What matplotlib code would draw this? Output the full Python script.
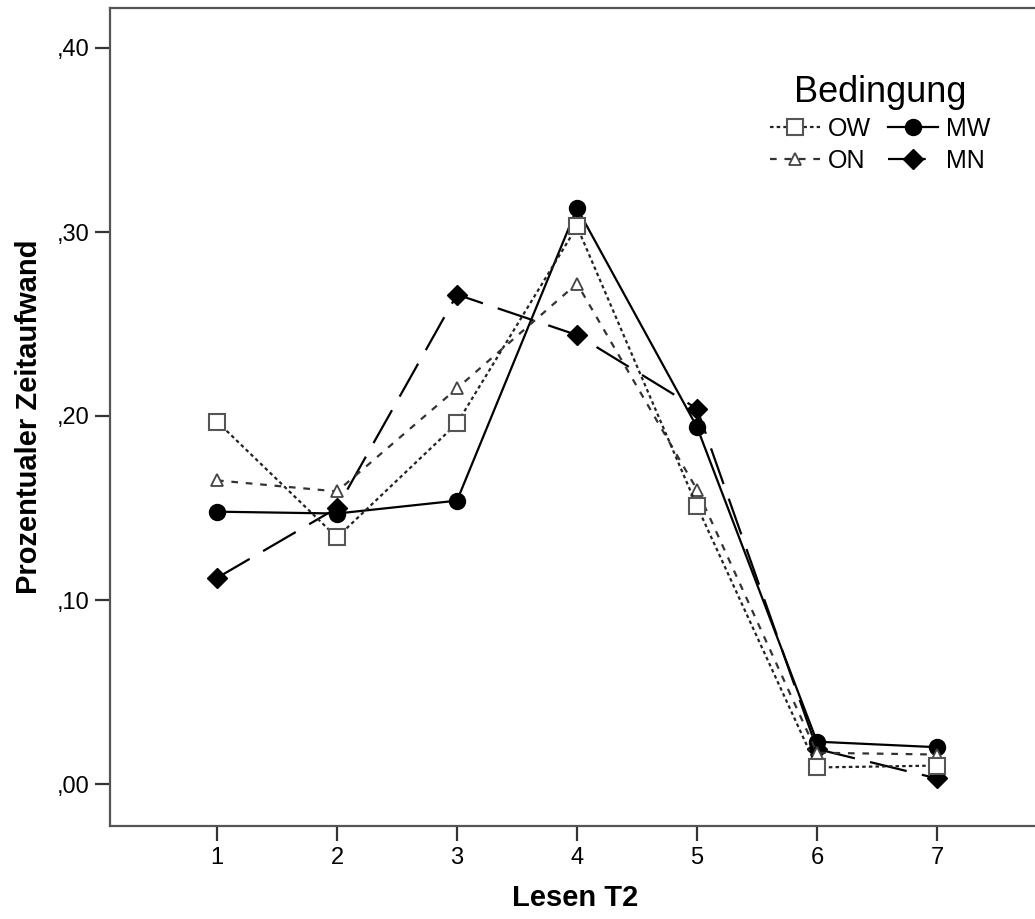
import matplotlib
matplotlib.use("Agg")
import matplotlib.pyplot as plt
from matplotlib.ticker import FuncFormatter, FixedLocator

plt.rcParams['font.family'] = ['Liberation Sans', 'DejaVu Sans']

x = [1, 2, 3, 4, 5, 6, 7]
ow = [0.197, 0.134, 0.196, 0.303, 0.151, 0.009, 0.010]
on = [0.165, 0.159, 0.215, 0.272, 0.160, 0.017, 0.016]
mw = [0.148, 0.147, 0.154, 0.313, 0.194, 0.023, 0.020]
mn = [0.112, 0.150, 0.266, 0.244, 0.204, 0.019, 0.003]
y_ticks = [0.0, 0.1, 0.2, 0.3, 0.4]

W, H = 1035, 919
fig = plt.figure(figsize=(W / 100, H / 100), dpi=100)
ax = fig.add_axes([110 / W, 1 - 826 / H, 930 / W, 818 / H])

lw = 1.6
ms = 11.5
ax.plot(x, mn, color='black', lw=lw, dashes=(17, 7), marker='D', ms=10.5,
        mfc='black', mec='black', label='MN', zorder=3)
ax.plot(x, mw, color='black', lw=lw, ls='-', marker='o', ms=ms,
        mfc='black', mec='black', label='MW', zorder=4)
ax.plot(x, on, color='#333333', lw=lw, dashes=(3, 3.5), marker='^', ms=9,
        mfc='white', mec='#444444', mew=1.3, label='ON', zorder=5)
ax.plot(x, ow, color='#222222', lw=lw, dashes=(1.6, 1.4), marker='s', ms=ms,
        mfc='white', mec='#555555', mew=1.5, label='OW', zorder=6)

ax.set_xlim(1 - 107 / 120, 7 + 103 / 120)
ax.set_ylim(-42 / 1840, 776 / 1840)
ax.xaxis.set_major_locator(FixedLocator(x))
ax.yaxis.set_major_locator(FixedLocator(y_ticks))
ax.yaxis.set_major_formatter(FuncFormatter(lambda v, p: (',%02d' % round(v * 100))))

for s in ax.spines.values():
    s.set_color('#555555')
    s.set_linewidth(1.6)
ax.tick_params(direction='out', length=11, width=1.6, color='#333333',
               labelsize=17, pad=4)

ax.set_xlabel('Lesen T2', fontsize=21, fontweight='bold')
ax.set_ylabel('Prozentualer Zeitaufwand', fontsize=21, fontweight='bold')
ax.xaxis.set_label_coords(0.5, -(898 - 826) / 818, transform=ax.transAxes)
ax.yaxis.set_label_coords(-(110 - 29) / 930, 0.5, transform=ax.transAxes)
ax.xaxis.label.set_va('center')
ax.yaxis.label.set_va('center')

handles, labels = ax.get_legend_handles_labels()
order = {'OW': 0, 'ON': 1, 'MW': 2, 'MN': 3}
hl = sorted(zip(handles, labels), key=lambda t: order[t[1]])
leg = fig.legend([h for h, l in hl], [l for h, l in hl], ncol=2, loc='upper center',
                 bbox_to_anchor=(880 / W, 1 - 57 / H), frameon=False,
                 title='Bedingung', fontsize=18, title_fontsize=26,
                 handlelength=2.0, handletextpad=0.3, columnspacing=0.7,
                 labelspacing=0.3, borderpad=0.2)

fig.savefig('out.png', dpi=100, facecolor='white')
